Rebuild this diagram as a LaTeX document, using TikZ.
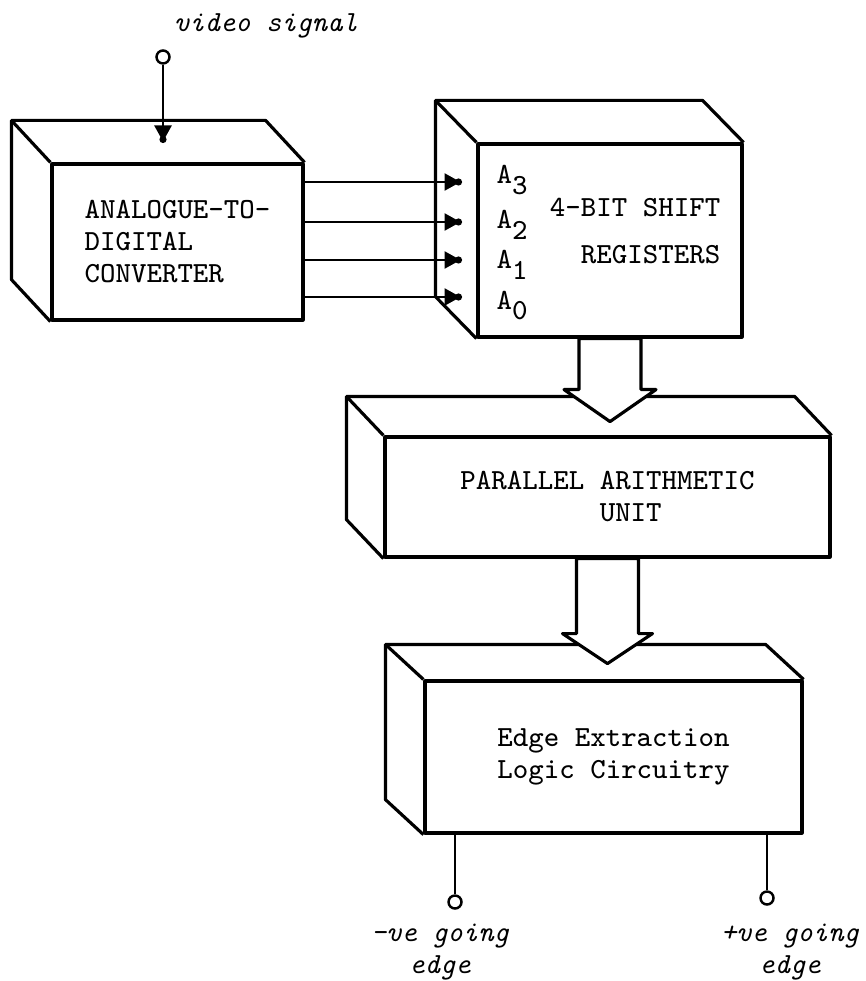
\documentclass[tikz,border=0pt]{standalone}
\usepackage{fontspec}
\usetikzlibrary{arrows.meta,calc}

\tikzset{
  boxline/.style={line width=0.9pt, line join=round},
  unit/.style={draw, boxline, fill=white, inner sep=0pt,
    font=\fontsize{8.3}{9.1}\selectfont\ttfamily},
  regfont/.style={font=\fontsize{8.3}{9.1}\selectfont\ttfamily, inner sep=0pt},
  wire/.style={line width=0.7pt},
  pin/.style={draw, circle, line width=0.7pt, fill=white, inner sep=0pt, minimum size=1.3mm},
  dotarrow/.style={wire, -{Triangle[length=1.6mm,width=1.7mm,sep=-0.55mm]Circle[length=0.7mm]}},
  fatarrow/.style={boxline, fill=white},
  sigtext/.style={font=\fontsize{8.3}{9.1}\selectfont\ttfamily\itshape, align=center, inner sep=0pt},
}

\begin{document}
\begin{tikzpicture}[x=0.1mm, y=-0.1mm]
    \useasboundingbox (0,0) rectangle (865,981);

    % Front faces of the units
    \node[unit, minimum width=25.1mm, minimum height=15.6mm, align=left] (adc) at (177.5,242)
          {ANALOGUE-TO-\\DIGITAL\\CONVERTER};
    \node[unit, minimum width=26.4mm, minimum height=19.3mm] (sr) at (610,240.5) {};
    \node[unit, minimum width=44.5mm, minimum height=12mm, align=left] (pau) at (607.5,497)
          {PARALLEL ARITHMETIC\\\hphantom{PARALLEL }UNIT};
    \node[unit, minimum width=37.7mm, minimum height=15.2mm, align=center] (eel) at (613.5,757)
          {Edge Extraction\\Logic Circuitry};

    % Top and left faces
    \foreach \b/\dx/\dy in {adc/39/42, sr/41/42, pau/37/39, eel/38/35} {
        \draw[boxline] (\b.south west) -- ++(-\dx,-\dy)
              -- ($(\b.north west)+(-\dx,-\dy)$) -- ($(\b.north east)+(-\dx,-\dy)$)
              -- (\b.north east);
        \draw[boxline] (\b.north west) -- ++(-\dx,-\dy);
    }

    % Shift register labels
    \node[regfont, align=right, anchor=east] (srtext) at (721,231) {4-BIT SHIFT\\[4.5pt]REGISTERS};
    \foreach \i/\y in {3/177, 2/222, 1/262, 0/302}
        \node[regfont, anchor=base west] (a\i) at (496,\y+7) {A\raisebox{-0.8ex}{\i}};

    % Video input
    \node[pin] (vin) at (163,57) {};
    \node[sigtext] (vlabel) at (266,26) {video signal};
    \coordinate (vtip) at (163,143);
    \draw[dotarrow] (vin) -- (vtip);

    % Converter outputs
    \foreach \i/\y in {3/182, 2/222, 1/260, 0/297} {
        \coordinate (in\i) at (462,\y);
        \draw[dotarrow] (adc.east |- in\i) -- (in\i);
    }

    % Wide arrows
    \draw[fatarrow] ([xshift=-3.1mm]sr.south) -- ++(0,51) -- ++(-15,0) -- ++(46,32)
          -- ++(46,-32) -- ++(-15,0) -- ++(0,-51) -- cycle;
    \draw[fatarrow] ([xshift=-3.1mm]pau.south) -- ++(0,75) -- ++(-14,0) -- ++(45,30)
          -- ++(45,-30) -- ++(-14,0) -- ++(0,-75) -- cycle;

    % Edge outputs
    \node[pin] (nout) at (455,902) {};
    \node[pin] (pout) at (767,898) {};
    \draw[wire] (nout) -- (nout |- eel.south);
    \draw[wire] (pout) -- (pout |- eel.south);
    \node[sigtext] (nlabel) at (440,952) {-ve going\\edge};
    \node[sigtext] (plabel) at (790,952) {+ve going\\edge};
\end{tikzpicture}
\end{document}
